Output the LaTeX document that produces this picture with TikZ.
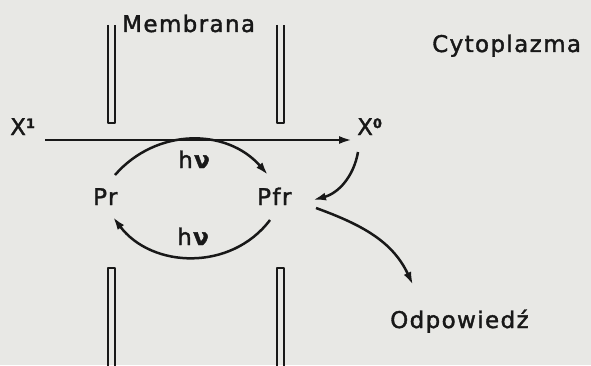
\documentclass[tikz,border=0pt]{standalone}
\usepackage{fontspec}
\setmainfont{DejaVu Sans}[LetterSpace=6, FakeBold=1.6]
\usetikzlibrary{arrows.meta}
\definecolor{paper}{RGB}{232,232,229}
\definecolor{ink}{RGB}{24,24,24}
\tikzset{
  lbl/.style={anchor=base west, inner sep=0pt, text=ink, font=\fontsize{23}{26}\selectfont},
  wall/.style={draw=ink, line width=2.6pt, line join=round},
  conn/.style={draw=ink, line width=2.5pt, -{Latex[length=13pt,width=8pt]}},
}
\newcommand{\upidx}[1]{\raisebox{7pt}{\fontsize{13}{14}\selectfont\bfseries #1}}
\newcommand{\hnu}{h\textbf{ν}}
\begin{document}
\begin{tikzpicture}[x=1pt,y=1pt]
  \fill[paper] (0,0) rectangle (591,365);
  \useasboundingbox (0,0) rectangle (591,365);

  % membrane walls: two above, two below the channel
  \draw[wall] (108,340) -- (108,242) -- (115,242) -- (115,340);
  \draw[wall] (277,340) -- (277,242) -- (284,242) -- (284,340);
  \draw[wall] (108,-2) -- (108,97) -- (115,97) -- (115,-2);
  \draw[wall] (277,-2) -- (277,97) -- (284,97) -- (284,-2);

  % labels
  \node[lbl] (memb) at (122,333) {Membrana};
  \node[lbl] (cyto) at (432,313) {Cytoplazma};
  \node[lbl] (X1) at (10,230) {X\upidx{1}};
  \node[lbl] (X0) at (357,230) {X\upidx{0}};
  \node[lbl] (Pr) at (93,160) {Pr};
  \node[lbl] (Pfr) at (257,160) {Pfr};
  \node[lbl] (odp) at (390,37) {Odpowiedź};
  \node[lbl] (hnuA) at (178,197) {\hnu};
  \node[lbl] (hnuB) at (177,120) {\hnu};

  % transport of X across the membrane
  \draw[conn] ([shift={(35,-5)}]X1.base west) -- ([shift={(-5,-5)}]X0.base west);

  % photoconversion cycle
  \draw[conn] ([shift={(22,30)}]Pr.base west) to[out=49,in=131,looseness=1.05] ([shift={(11,30)}]Pfr.base west);
  \draw[conn] ([shift={(13,-15)}]Pfr.base west) to[out=-127,in=-53,looseness=1.05] ([shift={(20,-12)}]Pr.base west);

  % X0 acting on Pfr, Pfr giving the response
  \draw[conn] ([shift={(1,-17)}]X0.base west) to[out=-100,in=15] ([shift={(56,5)}]Pfr.base west);
  \draw[conn] ([shift={(59,-3)}]Pfr.base west) to[out=-20,in=115] ([shift={(23,43)}]odp.base west);
\end{tikzpicture}
\end{document}
